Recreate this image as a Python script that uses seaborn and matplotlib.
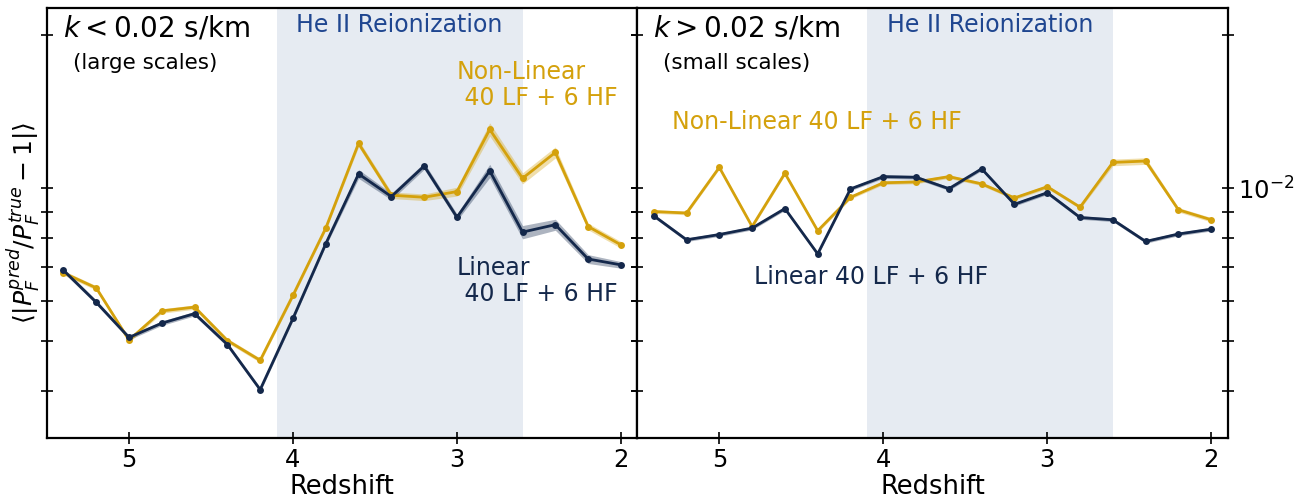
import numpy as np
import pandas as pd
import matplotlib
matplotlib.use("Agg")
import matplotlib.pyplot as plt
import seaborn as sns

# ---------------- data ----------------
redshift = [5.4, 5.2, 5.0, 4.8, 4.6, 4.4, 4.2, 4.0, 3.8, 3.6, 3.4, 3.2, 3.0, 2.8, 2.6, 2.4, 2.2, 2.0]

lin_large = [6.90e-3, 5.97e-3, 5.09e-3, 5.43e-3, 5.67e-3, 4.93e-3, 4.02e-3, 5.55e-3, 7.78e-3,
             1.067e-2, 9.63e-3, 1.106e-2, 8.77e-3, 1.082e-2, 8.20e-3, 8.48e-3, 7.26e-3, 7.07e-3]
nl_large = [6.82e-3, 6.37e-3, 5.03e-3, 5.74e-3, 5.84e-3, 5.02e-3, 4.59e-3, 6.16e-3, 8.35e-3,
            1.225e-2, 9.69e-3, 9.60e-3, 9.85e-3, 1.305e-2, 1.046e-2, 1.176e-2, 8.41e-3, 7.74e-3]

lin_small = [8.83e-3, 7.92e-3, 8.11e-3, 8.35e-3, 9.12e-3, 7.43e-3, 9.97e-3, 1.054e-2, 1.051e-2,
             9.98e-3, 1.092e-2, 9.30e-3, 9.80e-3, 8.76e-3, 8.67e-3, 7.86e-3, 8.13e-3, 8.31e-3]
nl_small = [9.00e-3, 8.94e-3, 1.099e-2, 8.41e-3, 1.070e-2, 8.25e-3, 9.60e-3, 1.025e-2, 1.029e-2,
            1.054e-2, 1.020e-2, 9.57e-3, 1.007e-2, 9.18e-3, 1.124e-2, 1.131e-2, 9.07e-3, 8.67e-3]

# relative half-width of the uncertainty bands
lin_large_err = [0.01, 0.01, 0.01, 0.01, 0.01, 0.01, 0.01, 0.01, 0.01,
                 0.02, 0.015, 0.015, 0.015, 0.03, 0.03, 0.025, 0.02, 0.015]
nl_large_err = [0.01, 0.01, 0.01, 0.01, 0.01, 0.01, 0.01, 0.01, 0.01,
                0.015, 0.015, 0.015, 0.02, 0.03, 0.025, 0.025, 0.015, 0.015]
lin_small_err = [0.008] * 18
nl_small_err = [0.008, 0.008, 0.008, 0.008, 0.008, 0.008, 0.008, 0.008, 0.008,
                0.008, 0.008, 0.008, 0.008, 0.008, 0.015, 0.015, 0.01, 0.01]

reion_lo, reion_hi = 2.6, 4.1

GOLD = "#D4A10C"
NAVY = "#14284B"
SHADE = "#E6EBF2"
BLUE = "#1F4690"

sns.set_style("ticks")
plt.rcParams["font.family"] = ["DejaVu Sans"]
plt.rcParams["mathtext.fontset"] = "dejavusans"
plt.rcParams["text.color"] = "black"
plt.rcParams["axes.labelcolor"] = "black"
plt.rcParams["xtick.color"] = "black"
plt.rcParams["ytick.color"] = "black"

fig, axes = plt.subplots(1, 2, figsize=(13.06, 5.04), dpi=100, sharey=True)
fig.subplots_adjust(left=0.036, right=0.940, top=0.984, bottom=0.131, wspace=0)

panels = [
    (axes[0], lin_large, nl_large, lin_large_err, nl_large_err, r"$k < 0.02$ s/km", "(large scales)"),
    (axes[1], lin_small, nl_small, lin_small_err, nl_small_err, r"$k > 0.02$ s/km", "(small scales)"),
]

for ax, lin, nl, le, ne, ktxt, stxt in panels:
    ax.axvspan(reion_lo, reion_hi, color=SHADE, lw=0, zorder=0)
    df = pd.DataFrame({"z": redshift, "lin": lin, "nl": nl})
    lin_a = np.array(lin); nl_a = np.array(nl)
    ax.fill_between(redshift, nl_a * (1 - np.array(ne)), nl_a * (1 + np.array(ne)),
                    color=GOLD, alpha=0.35, lw=0, zorder=1)
    ax.fill_between(redshift, lin_a * (1 - np.array(le)), lin_a * (1 + np.array(le)),
                    color=NAVY, alpha=0.35, lw=0, zorder=1)
    sns.lineplot(data=df, x="z", y="nl", ax=ax, color=GOLD, lw=2, marker="o",
                 markersize=5, markeredgewidth=0, zorder=3)
    sns.lineplot(data=df, x="z", y="lin", ax=ax, color=NAVY, lw=2, marker="o",
                 markersize=5, markeredgewidth=0, zorder=4)
    ax.set_yscale("log")
    ax.set_xlim(5.5, 1.9)
    ax.set_ylim(3.23e-3, 2.26e-2)
    ax.set_xticks([5, 4, 3, 2])
    ax.set_xticklabels(["5", "4", "3", "2"])
    ax.set_xlabel("Redshift", fontsize=18.5, labelpad=1)
    ax.set_ylabel("")
    for s in ax.spines.values():
        s.set_visible(True)
        s.set_linewidth(1.6)
        s.set_color("black")
    ax.tick_params(axis="both", which="both", direction="inout", length=8, width=1.2,
                   left=True, right=True, labelsize=17.5, colors="black")
    ax.tick_params(axis="y", which="both", labelleft=False, labelright=False)
    ax.text(0.027, 0.953, ktxt, transform=ax.transAxes, fontsize=20, va="center", ha="left")
    ax.text(0.044, 0.872, stxt, transform=ax.transAxes, fontsize=15.5, va="center", ha="left")
    ax.text((reion_lo + reion_hi) / 2, 0.96, "He II Reionization", transform=ax.get_xaxis_transform(),
            fontsize=17, color=BLUE, ha="center", va="center")

axes[1].tick_params(axis="y", which="major", labelright=True)
axes[1].tick_params(axis="y", which="minor", labelright=False)

axes[0].set_ylabel(r"$\langle |P_F^{pred}/P_F^{true} - 1| \rangle$", fontsize=18)
axes[0].yaxis.set_label_coords(-0.009, 0.5)

axes[0].text(3.0, 0.822, "Non-Linear\n 40 LF + 6 HF", transform=axes[0].get_xaxis_transform(),
             color=GOLD, fontsize=17, ha="left", va="center", linespacing=1.1)
axes[0].text(3.0, 0.366, "Linear\n 40 LF + 6 HF", transform=axes[0].get_xaxis_transform(),
             color=NAVY, fontsize=17, ha="left", va="center", linespacing=1.1)
axes[1].text(0.058, 0.736, "Non-Linear 40 LF + 6 HF", transform=axes[1].transAxes,
             color=GOLD, fontsize=17, ha="left", va="center")
axes[1].text(0.197, 0.375, "Linear 40 LF + 6 HF", transform=axes[1].transAxes,
             color=NAVY, fontsize=17, ha="left", va="center")

fig.savefig("out.png", dpi=100)
